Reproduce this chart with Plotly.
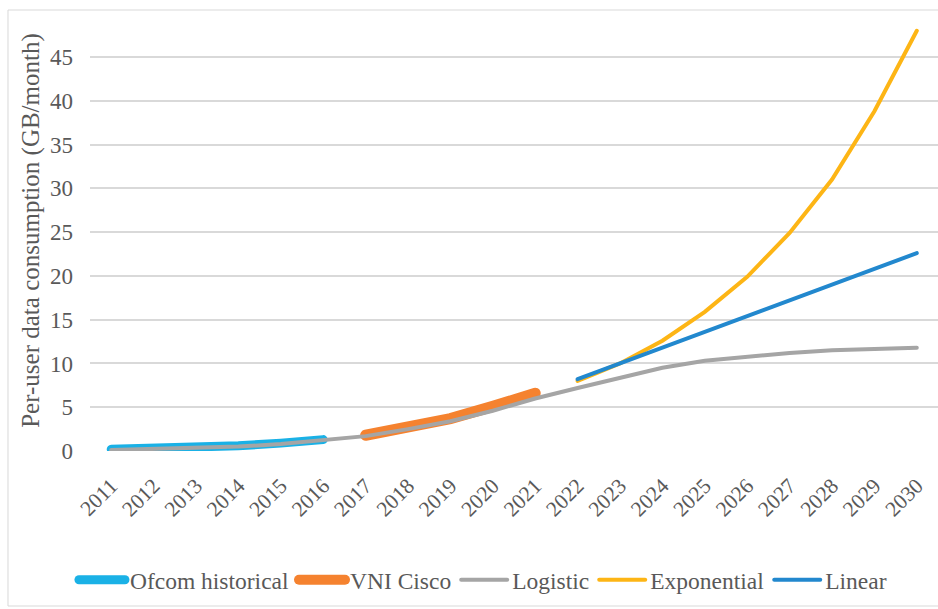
import plotly.graph_objects as go

years = [str(y) for y in range(2011, 2031)]

ofcom_years = years[0:6]
ofcom_vals = [0.2, 0.3, 0.4, 0.6, 0.9, 1.3]

vni_years = years[6:11]
vni_vals = [1.8, 2.6, 3.7, 5.1, 6.6]

logistic_years = years
logistic_vals = [0.1, 0.2, 0.3, 0.5, 0.8, 1.2, 1.7, 2.5, 3.4, 4.6, 6.0,
                 7.2, 8.4, 9.5, 10.3, 10.8, 11.2, 11.5, 11.7, 11.8]

exp_years = years[11:]
exp_vals = [8.0, 10.0, 12.6, 15.9, 19.9, 24.9, 31.0, 38.8, 48.0]

lin_years = years[11:]
lin_vals = [8.2, 10.0, 11.8, 13.6, 15.4, 17.2, 19.0, 20.8, 22.6]

y_ticks = [0, 5, 10, 15, 20, 25, 30, 35, 40, 45]

FONT = "Liberation Serif, Times New Roman, serif"
TXT = "#595959"

fig = go.Figure()
fig.add_trace(go.Scatter(x=ofcom_years, y=ofcom_vals, name="Ofcom historical", mode="lines",
                         line=dict(color="#1AB1E6", width=9)))
fig.add_trace(go.Scatter(x=vni_years, y=vni_vals, name="VNI Cisco", mode="lines",
                         line=dict(color="#F5822F", width=11)))
fig.add_trace(go.Scatter(x=logistic_years, y=logistic_vals, name="Logistic", mode="lines",
                         line=dict(color="#A5A5A5", width=4)))
fig.add_trace(go.Scatter(x=exp_years, y=exp_vals, name="Exponential", mode="lines",
                         line=dict(color="#FDB515", width=4)))
fig.add_trace(go.Scatter(x=lin_years, y=lin_vals, name="Linear", mode="lines",
                         line=dict(color="#2288CE", width=4)))

fig.update_layout(
    width=938, height=609,
    margin=dict(l=90, r=0, t=10, b=158),
    paper_bgcolor="white", plot_bgcolor="white",
    font=dict(family=FONT, size=22, color=TXT),
    showlegend=True,
    legend=dict(orientation="h", x=0.4634, xanchor="center", y=-0.2925, yanchor="middle",
                font=dict(family=FONT, size=23.5, color=TXT), itemwidth=46,
                bgcolor="rgba(0,0,0,0)"),
    xaxis=dict(type="category", categoryorder="array", categoryarray=years,
               range=[-0.5, 19.5], showgrid=False, showline=False, zeroline=False,
               tickangle=-45, ticks="", ticklabelstandoff=17,
               tickfont=dict(family=FONT, size=21.5, color=TXT)),
    yaxis=dict(range=[0, 50.37], tickvals=y_ticks, showgrid=True, gridcolor="#D9D9D9",
               gridwidth=1.5, zeroline=False, showline=False, ticks="",
               ticklabelstandoff=16,
               tickfont=dict(family=FONT, size=23, color=TXT),
               title=dict(text="Per-user data consumption (GB/month)", standoff=3,
                          font=dict(family=FONT, size=25, color=TXT))),
    shapes=[dict(type="rect", xref="paper", yref="paper", x0=-0.0967, x1=1.01,
                 y0=-0.3515, y1=1.0, line=dict(color="#D9D9D9", width=1), layer="below")],
)

post = (
    "document.body.style.margin='0';"
    "document.querySelectorAll('.scatterlayer path.js-line, .legendlines path')"
    ".forEach(function(p){p.style.strokeLinecap='round';});"
)

fig.write_html("out.html", config={"displayModeBar": False}, post_script=post)
